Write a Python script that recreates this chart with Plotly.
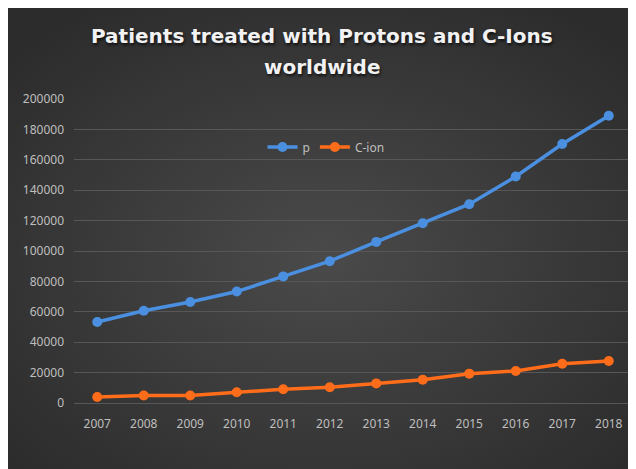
import base64

import plotly.graph_objects as go

YEARS = ["2007", "2008", "2009", "2010", "2011", "2012",
         "2013", "2014", "2015", "2016", "2017", "2018"]
PROTONS = [53300, 60700, 66500, 73300, 83300, 93300,
           106000, 118300, 130800, 149000, 170400, 189000]
CARBON_IONS = [4000, 4900, 4900, 7100, 9100, 10400,
               12900, 15300, 19300, 21100, 25800, 27600]
Y_TICKS = [0, 20000, 40000, 60000, 80000, 100000,
           120000, 140000, 160000, 180000, 200000]

BLUE = "#4a8fe0"
ORANGE = "#ff6c1a"
TICK_GREY = "#bfbfbf"
GRID_GREY = "#575757"

# figure size and plot area margins in pixels (page has an 8px body margin,
# the figure runs past the right and bottom window edges like the original)
W, H = 644, 465
L, R, T, B = 66, 20, 91, 70
plot_w = W - L - R
plot_h = H - T - B

# dark radial-gradient background (Excel chart style), drawn as an svg image
panel_svg = f"""<svg xmlns='http://www.w3.org/2000/svg' width='{W}' height='{H}'>
<defs><radialGradient id='g' cx='49%' cy='54%' r='65%'>
<stop offset='0%' stop-color='#4a4a4a'/>
<stop offset='100%' stop-color='#2c2c2c'/>
</radialGradient></defs>
<rect width='{W}' height='{H}' fill='url(#g)'/></svg>"""
panel_src = "data:image/svg+xml;base64," + base64.b64encode(panel_svg.encode()).decode()


def px_x(x):
    return (x - L) / plot_w


def px_y(y):
    return (H - B - y) / plot_h


fig = go.Figure()
fig.add_trace(
    go.Scatter(
        x=YEARS,
        y=PROTONS,
        name="p",
        mode="lines+markers",
        line=dict(color=BLUE, width=3.5),
        marker=dict(color=BLUE, size=10),
    )
)
fig.add_trace(
    go.Scatter(
        x=YEARS,
        y=CARBON_IONS,
        name="C-ion",
        mode="lines+markers",
        line=dict(color=ORANGE, width=3.5),
        marker=dict(color=ORANGE, size=10),
    )
)

title_font = dict(
    family="DejaVu Sans",
    size=20,
    color="#f2f2f2",
    weight="bold",
    shadow="1px 2px 3px rgba(0,0,0,0.7)",
)
fig.add_annotation(
    text="Patients treated with Protons and C-Ions",
    xref="paper", yref="paper",
    x=px_x(314), y=px_y(28),
    xanchor="center", yanchor="middle",
    showarrow=False, font=title_font,
)
fig.add_annotation(
    text="worldwide",
    xref="paper", yref="paper",
    x=px_x(314), y=px_y(59),
    xanchor="center", yanchor="middle",
    showarrow=False, font=title_font,
)

fig.add_layout_image(
    source=panel_src,
    xref="paper", yref="paper",
    x=px_x(0), y=px_y(0),
    sizex=W / plot_w, sizey=H / plot_h,
    xanchor="left", yanchor="top",
    sizing="stretch", layer="below",
)

fig.update_layout(
    width=W,
    height=H,
    margin=dict(l=L, r=R, t=T, b=B, pad=0),
    paper_bgcolor="#3a3a3a",
    plot_bgcolor="rgba(0,0,0,0)",
    font=dict(family="Noto Sans", size=12, color=TICK_GREY),
    showlegend=True,
    legend=dict(
        orientation="h",
        x=px_x(318), y=px_y(139),
        xanchor="center", yanchor="middle",
        bgcolor="rgba(0,0,0,0)",
        font=dict(size=12, color=TICK_GREY),
        itemwidth=30,
        tracegroupgap=0,
    ),
    xaxis=dict(
        type="category",
        range=[-0.5, len(YEARS) - 0.5],
        showgrid=False,
        zeroline=False,
        showline=False,
        ticks="",
        ticklabelstandoff=12,
        tickfont=dict(size=12, color=TICK_GREY),
        fixedrange=True,
    ),
    yaxis=dict(
        range=[0, 200000],
        tickvals=Y_TICKS,
        ticktext=[str(v) for v in Y_TICKS],
        showgrid=True,
        gridcolor=GRID_GREY,
        gridwidth=1,
        zeroline=True,
        zerolinecolor=GRID_GREY,
        zerolinewidth=1,
        showline=False,
        ticks="",
        ticklabelstandoff=9,
        tickfont=dict(size=12, color=TICK_GREY),
        fixedrange=True,
    ),
)

# hide the scrollbars the oversized figure would otherwise bring
fig.write_html(
    "out.html",
    post_script="document.documentElement.style.overflow='hidden';"
                "document.body.style.overflow='hidden';",
)
